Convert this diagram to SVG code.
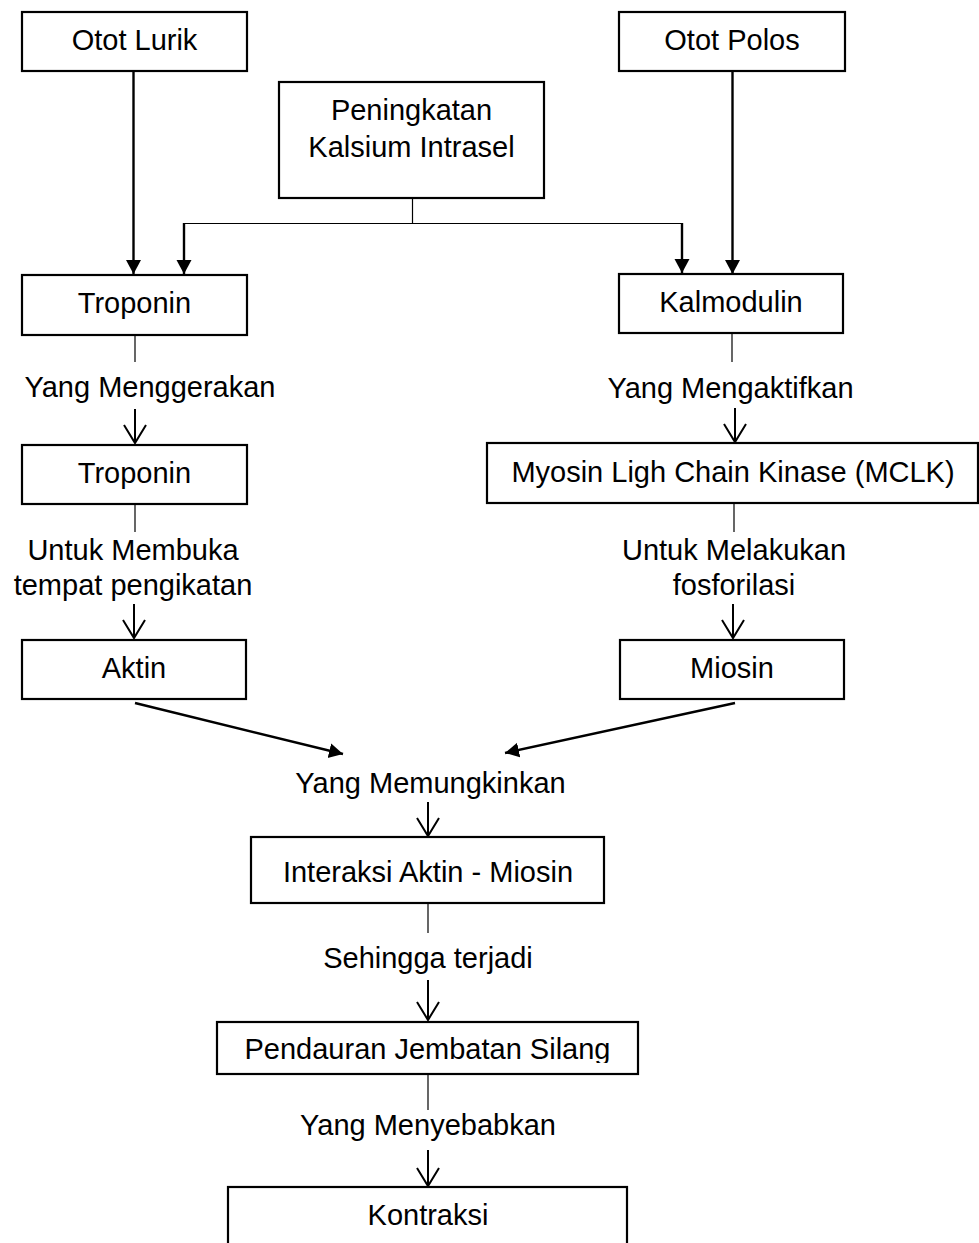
<svg xmlns="http://www.w3.org/2000/svg" width="979" height="1243" viewBox="0 0 979 1243">
<style>
.box{fill:#fff;stroke:#000;stroke-width:2.2}
.t{font-family:"Liberation Sans",Arial,sans-serif;font-size:29px;fill:#000;text-anchor:middle}
.thin{stroke:#000;stroke-width:1.2;fill:none}
.thick{stroke:#000;stroke-width:2.4;fill:none}
.open{stroke:#000;stroke-width:2;fill:none}
</style>
<defs>
<marker id="fa" markerUnits="userSpaceOnUse" markerWidth="16" markerHeight="16" refX="14" refY="7.5" orient="auto">
<path d="M0,0 L14,7.5 L0,15 z" fill="#000"/>
</marker>
<marker id="oa" markerUnits="userSpaceOnUse" markerWidth="22" markerHeight="26" refX="19" refY="12" orient="auto">
<path d="M1,1 L19,12 L1,23" fill="none" stroke="#000" stroke-width="2"/>
</marker>
<clipPath id="clipPJ"><rect x="217" y="1022" width="421" height="41"/></clipPath>
</defs>
<rect width="979" height="1243" fill="#fff"/>

<g id="connectors">
<line class="thick" x1="133.5" y1="71" x2="133.5" y2="274" marker-end="url(#fa)"/>
<line class="thick" x1="732.5" y1="71" x2="732.5" y2="274" marker-end="url(#fa)"/>
<polyline class="thin" points="412.5,198 412.5,223.5"/>
<polyline class="thin" points="184,223.5 682,223.5"/>
<line class="thick" x1="184" y1="223" x2="184" y2="274" marker-end="url(#fa)"/>
<line class="thick" x1="682" y1="223" x2="682" y2="273" marker-end="url(#fa)"/>
<line class="thin" x1="135" y1="335" x2="135" y2="362"/>
<line class="open" x1="135" y1="409" x2="135" y2="443" marker-end="url(#oa)"/>
<line class="thin" x1="135" y1="504" x2="135" y2="532"/>
<line class="open" x1="134" y1="604" x2="134" y2="638" marker-end="url(#oa)"/>
<line class="thin" x1="732" y1="333" x2="732" y2="362"/>
<line class="open" x1="735" y1="408" x2="735" y2="442" marker-end="url(#oa)"/>
<line class="thin" x1="734" y1="503" x2="734" y2="532"/>
<line class="open" x1="733" y1="604" x2="733" y2="638" marker-end="url(#oa)"/>
<line class="thick" x1="135" y1="703" x2="343" y2="754" marker-end="url(#fa)"/>
<line class="thick" x1="735" y1="703" x2="505" y2="753" marker-end="url(#fa)"/>
<line class="open" x1="428" y1="802" x2="428" y2="836" marker-end="url(#oa)"/>
<line class="thin" x1="428" y1="903" x2="428" y2="933"/>
<line class="open" x1="428" y1="980" x2="428" y2="1020" marker-end="url(#oa)"/>
<line class="thin" x1="428" y1="1074" x2="428" y2="1110"/>
<line class="open" x1="428" y1="1150" x2="428" y2="1186" marker-end="url(#oa)"/>
</g>

<g id="labels">
<text class="t" x="150" y="397">Yang Menggerakan</text>
<text class="t" x="133" y="560">Untuk Membuka</text>
<text class="t" x="133" y="595">tempat pengikatan</text>
<text class="t" x="730.5" y="398">Yang Mengaktifkan</text>
<text class="t" x="734" y="560">Untuk Melakukan</text>
<text class="t" x="734" y="595">fosforilasi</text>
<text class="t" x="430.5" y="793">Yang Memungkinkan</text>
<text class="t" x="428" y="968">Sehingga terjadi</text>
<text class="t" x="428" y="1135">Yang Menyebabkan</text>
</g>

<g id="otot-lurik"><rect class="box" x="22" y="12" width="225" height="59"/><text class="t" x="134.5" y="50">Otot Lurik</text></g>
<g id="otot-polos"><rect class="box" x="619" y="12" width="226" height="59"/><text class="t" x="732" y="50">Otot Polos</text></g>
<g id="peningkatan"><rect class="box" x="279" y="82" width="265" height="116"/><text class="t" x="411.5" y="120">Peningkatan</text><text class="t" x="411.5" y="157">Kalsium Intrasel</text></g>
<g id="troponin1"><rect class="box" x="22" y="275" width="225" height="60"/><text class="t" x="134.5" y="313">Troponin</text></g>
<g id="kalmodulin"><rect class="box" x="619" y="274" width="224" height="59"/><text class="t" x="731" y="312">Kalmodulin</text></g>
<g id="troponin2"><rect class="box" x="22" y="445" width="225" height="59"/><text class="t" x="134.5" y="483">Troponin</text></g>
<g id="mclk"><rect class="box" x="487" y="443" width="491" height="60"/><text class="t" x="733" y="482">Myosin Ligh Chain Kinase (MCLK)</text></g>
<g id="aktin"><rect class="box" x="22" y="640" width="224" height="59"/><text class="t" x="134" y="678">Aktin</text></g>
<g id="miosin"><rect class="box" x="620" y="640" width="224" height="59"/><text class="t" x="732" y="678">Miosin</text></g>
<g id="interaksi"><rect class="box" x="251" y="837" width="353" height="66"/><text class="t" x="428" y="882">Interaksi Aktin - Miosin</text></g>
<g id="pendauran"><rect class="box" x="217" y="1022" width="421" height="52"/><text class="t" x="427.5" y="1059" clip-path="url(#clipPJ)">Pendauran Jembatan Silang</text></g>
<g id="kontraksi"><rect class="box" x="228" y="1187" width="399" height="80"/><text class="t" x="428" y="1225">Kontraksi</text></g>
</svg>
